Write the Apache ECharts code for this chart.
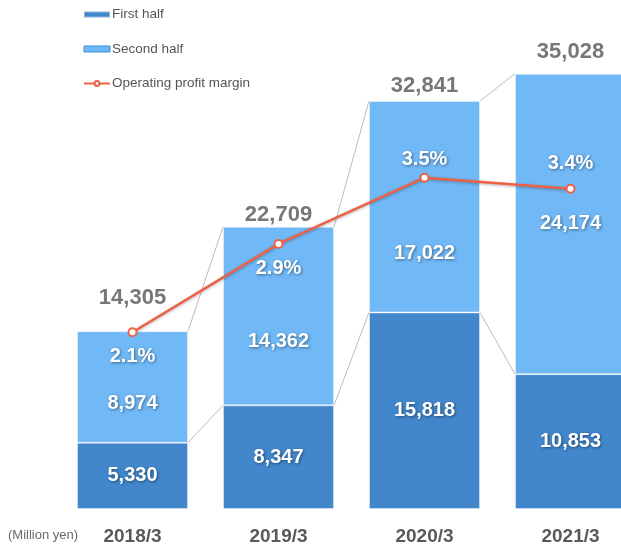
<!DOCTYPE html>
<html>
<head>
<meta charset="utf-8">
<script src="https://cdn.jsdelivr.net/npm/echarts@6/dist/echarts.min.js"></script>
<style>
  html, body { margin: 0; padding: 0; background: #ffffff; overflow: hidden; }
  #chart { width: 660px; height: 546px; }
</style>
</head>
<body>
<div id="chart"></div>
<script>
// Fiscal years and sales figures (million yen)
const categories = ['2018/3', '2019/3', '2020/3', '2021/3'];
const firstHalf = [5330, 8347, 15818, 10853];
const secondHalf = [8974, 14362, 17022, 24174];
const totals = [14305, 22709, 32841, 35028];
// Operating profit margin (%)
const margins = [2.1, 2.9, 3.5, 3.4];

// Label placement tweaks
const secondLabelShift = [16, 25, 47, 0];
const totalLabelGap = [22, 1, 4, 11];
const marginLabelPos = ['bottom', 'bottom', 'top', 'top'];
const marginLabelGap = [9, 10, 3, 10];

const FONT = 'Liberation Sans, Arial, sans-serif';
const BAR_W = 111;
const DARK = '#4287cc';
const LIGHT = '#70b8f6';
const LINE = '#ee6145';

const whiteLabel = {
  color: '#ffffff',
  fontFamily: FONT,
  fontWeight: 'bold',
  fontSize: 20,
  textShadowColor: 'rgba(0,0,0,0.45)',
  textShadowBlur: 3,
  textShadowOffsetX: 1,
  textShadowOffsetY: 1
};

const fmt = v => v.toLocaleString('en-US');

// Connector segments between neighbouring bars: top edges and half boundaries
const connectors = [];
for (let i = 0; i < categories.length - 1; i++) {
  connectors.push([i, firstHalf[i] + secondHalf[i], firstHalf[i + 1] + secondHalf[i + 1], firstHalf[i], firstHalf[i + 1]]);
}

const chart = echarts.init(document.getElementById('chart'), null, { renderer: 'canvas' });

chart.setOption({
  animation: false,
  backgroundColor: '#ffffff',
  textStyle: { fontFamily: FONT },
  grid: { left: 59.5, right: 16.5, top: 12, bottom: 37 },
  legend: {
    orient: 'vertical',
    left: 78,
    top: 2,
    itemWidth: 26,
    itemHeight: 6,
    itemGap: 19.5,
    textStyle: { color: '#555555', fontSize: 13.5, lineHeight: 15, padding: [0, 0, 0, -3] },
    data: [
      { name: 'First half', icon: 'rect' },
      { name: 'Second half', icon: 'rect', itemStyle: { borderColor: '#3b8ddb', borderWidth: 1 } },
      { name: 'Operating profit margin' }
    ]
  },
  xAxis: {
    type: 'category',
    data: categories,
    axisLine: { show: false },
    axisTick: { show: false },
    axisLabel: {
      margin: 18,
      color: '#595959',
      fontSize: 19,
      fontWeight: 'bold',
      fontFamily: FONT
    }
  },
  yAxis: [
    { type: 'value', min: 0, max: 40000, show: false, splitLine: { show: false } },
    { type: 'value', min: 0.5, max: 5.0, show: false, splitLine: { show: false } }
  ],
  graphic: [
    {
      type: 'text',
      left: 8,
      top: 529,
      style: { text: '(Million yen)', fill: '#6a6a6a', fontSize: 13, fontFamily: FONT }
    }
  ],
  series: [
    {
      name: 'First half',
      type: 'bar',
      stack: 'sales',
      barWidth: BAR_W,
      itemStyle: { color: DARK, borderColor: 'rgba(255,255,255,0.4)', borderWidth: 1 },
      label: Object.assign({ show: true, position: 'inside', formatter: p => fmt(p.value) }, whiteLabel),
      data: firstHalf
    },
    {
      name: 'Second half',
      type: 'bar',
      stack: 'sales',
      barWidth: BAR_W,
      itemStyle: { color: LIGHT, borderColor: 'rgba(255,255,255,0.4)', borderWidth: 1 },
      label: Object.assign({ show: true, position: 'inside', formatter: p => fmt(p.value) }, whiteLabel),
      data: secondHalf.map((v, i) => ({ value: v, label: { offset: [0, secondLabelShift[i]] } }))
    },
    {
      name: 'Totals',
      type: 'scatter',
      symbolSize: 0,
      silent: true,
      z: 5,
      label: {
        show: true,
        position: 'top',
        color: '#555555',
        fontSize: 22,
        fontWeight: 'bold',
        fontFamily: FONT,
        formatter: p => fmt(p.value)
      },
      data: totals.map((v, i) => ({ value: v, label: { distance: totalLabelGap[i] } }))
    },
    {
      name: 'Connectors',
      type: 'custom',
      silent: true,
      z: 1,
      renderItem: function (params, api) {
        const i = api.value(0);
        const half = BAR_W / 2;
        const a1 = api.coord([i, api.value(1)]);
        const a2 = api.coord([i + 1, api.value(2)]);
        const b1 = api.coord([i, api.value(3)]);
        const b2 = api.coord([i + 1, api.value(4)]);
        const style = { stroke: '#bdbdbd', lineWidth: 1 };
        return {
          type: 'group',
          children: [
            { type: 'line', shape: { x1: a1[0] + half, y1: a1[1], x2: a2[0] - half, y2: a2[1] }, style: style },
            { type: 'line', shape: { x1: b1[0] + half, y1: b1[1], x2: b2[0] - half, y2: b2[1] }, style: style }
          ]
        };
      },
      data: connectors
    },
    {
      name: 'Operating profit margin',
      type: 'line',
      yAxisIndex: 1,
      z: 10,
      symbol: 'circle',
      symbolSize: 8,
      lineStyle: { color: LINE, width: 2.5, shadowColor: 'rgba(0,0,0,0.3)', shadowBlur: 3, shadowOffsetY: 1 },
      itemStyle: { color: '#ffffff', borderColor: LINE, borderWidth: 2 },
      label: Object.assign({ show: true, formatter: p => p.value.toFixed(1) + '%' }, whiteLabel),
      data: margins.map((v, i) => ({ value: v, label: { position: marginLabelPos[i], distance: marginLabelGap[i] } }))
    }
  ]
});
</script>
</body>
</html>
